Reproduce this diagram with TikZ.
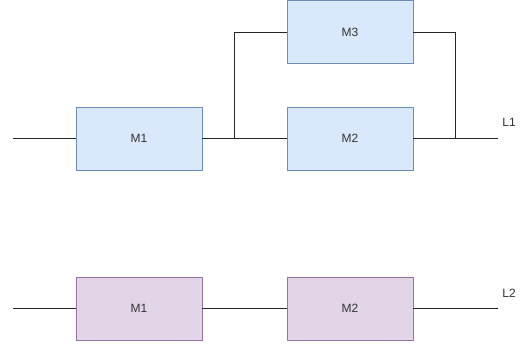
\documentclass[tikz,border=0pt]{standalone}
\usepackage{fontspec}
\setmainfont{Liberation Sans}
\definecolor{bfill}{HTML}{DAE8FC}
\definecolor{bdraw}{HTML}{6C8EBF}
\definecolor{pfill}{HTML}{E1D5E7}
\definecolor{pdraw}{HTML}{9673A6}
\definecolor{txt}{HTML}{333333}
\begin{document}
\begin{tikzpicture}[x=1pt,y=-1pt,
  font=\fontsize{12}{14}\selectfont,
  mbox/.style={draw=bdraw,fill=bfill,line width=0.9pt,minimum width=126pt,minimum height=63pt,inner sep=0pt,text=txt},
  pbox/.style={draw=pdraw,fill=pfill,line width=0.9pt,minimum width=126pt,minimum height=63pt,inner sep=0pt,text=txt},
  wire/.style={draw=black!85,line width=0.9pt},
  lbl/.style={text=txt,inner sep=0pt}]
\useasboundingbox (0,0) rectangle (525,349);
% top line
\node[mbox] (a1) at (139,138.5) {M1};
\node[mbox] (a3) at (350,32) {M3};
\node[mbox] (a2) at (350,138.5) {M2};
\coordinate (ain) at (13,138.5);
\coordinate (aout) at (498,138.5);
\coordinate (j1) at (234,138.5);
\coordinate (j2) at (455,138.5);
\path[wire] (ain) -- (a1.west);
\path[wire] (a1.east) -- (a2.west);
\path[wire] (j1) |- (a3.west);
\path[wire] (a2.east) -- (aout);
\path[wire] (a3.east) -| (j2);
\node[lbl] (l1) at (509,122) {L1};
% bottom line
\node[pbox] (b1) at (139,308.5) {M1};
\node[pbox] (b2) at (350,308.5) {M2};
\coordinate (bin) at (13,308.5);
\coordinate (bout) at (498,308.5);
\path[wire] (bin) -- (b1.west);
\path[wire] (b1.east) -- (b2.west);
\path[wire] (b2.east) -- (bout);
\node[lbl] (l2) at (509,293) {L2};
\end{tikzpicture}
\end{document}
